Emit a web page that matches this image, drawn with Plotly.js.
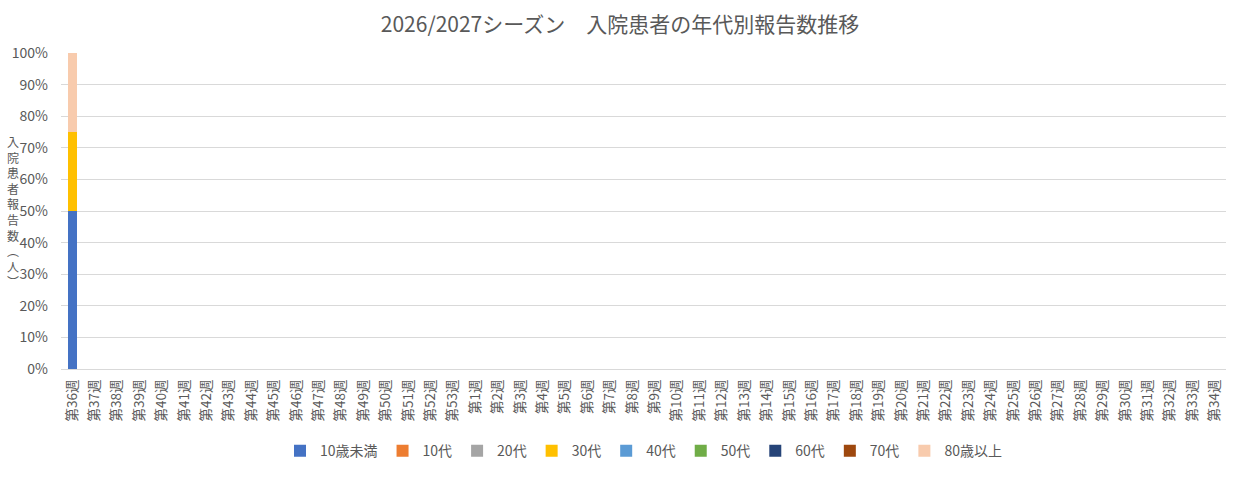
<!DOCTYPE html>
<html>
<head>
<meta charset="utf-8">
<script src="https://cdn.plot.ly/plotly-3.0.1.min.js"></script>
<style>
  html,body{margin:0;padding:0;background:#fff;}
  #chart{width:1240px;height:495px;}
</style>
</head>
<body>
<div id="chart"></div>
<script>
// 週ラベル (第36週〜第53週、第1週〜第34週)
const weeks=["第36週","第37週","第38週","第39週","第40週","第41週","第42週","第43週","第44週","第45週","第46週","第47週","第48週","第49週","第50週","第51週","第52週","第53週",
  "第1週","第2週","第3週","第4週","第5週","第6週","第7週","第8週","第9週","第10週","第11週","第12週","第13週","第14週","第15週","第16週","第17週","第18週","第19週","第20週",
  "第21週","第22週","第23週","第24週","第25週","第26週","第27週","第28週","第29週","第30週","第31週","第32週","第33週","第34週"];

const ageGroups=["10歳未満","10代","20代","30代","40代","50代","60代","70代","80歳以上"];
const colors=["#4472C4","#ED7D31","#A5A5A5","#FFC000","#5B9BD5","#70AD47","#264478","#9E480E","#F8CBAD"];

// 第36週のみ報告あり
const under10=[2];
const teens=[0];
const twenties=[0];
const thirties=[1];
const forties=[0];
const fifties=[0];
const sixties=[0];
const seventies=[0];
const over80=[1];

const seriesValues=[under10,teens,twenties,thirties,forties,fifties,sixties,seventies,over80];

const font="'Noto Sans CJK JP', 'Noto Sans', sans-serif";

const data=ageGroups.map((name,i)=>({
    x:weeks,
    y:weeks.map((w,j)=>j<seriesValues[i].length?seriesValues[i][j]:null),
    name:name,
    type:"bar",
    marker:{color:colors[i]},
    hoverinfo:"x+y+name"
}));

// 縦書きの軸タイトル
const yTitle=["入","院","患","者","報","告","数","︵","人","︶"].join("<br>");

const layout={
    barmode:"stack",
    barnorm:"fraction",
    bargap:0.58,
    paper_bgcolor:"#ffffff",
    plot_bgcolor:"#ffffff",
    width:1240,
    height:495,
    margin:{l:61,r:14,t:53,b:126},
    font:{family:font,color:"#595959",size:12},
    title:{
        text:"2026/2027シーズン　入院患者の年代別報告数推移",
        font:{family:font,size:21,color:"#595959"},
        x:0.5,xanchor:"center",y:0.95,yanchor:"middle"
    },
    xaxis:{
        type:"category",
        tickangle:-90,
        tickfont:{size:13.5,color:"#595959"},
        showline:true,
        linecolor:"#D9D9D9",
        ticks:"",
        ticklabelstandoff:4,
        showgrid:false
    },
    yaxis:{
        range:[0,1],
        dtick:0.1,
        tickformat:".0%",
        tickfont:{size:14,color:"#595959"},
        gridcolor:"#D9D9D9",
        zeroline:false,
        ticks:"",
        ticklabelstandoff:12,
        showline:false
    },
    legend:{
        orientation:"h",
        x:0.5,xanchor:"center",
        y:-0.26,yanchor:"middle",
        font:{size:14,color:"#595959"},
        traceorder:"normal",
        itemwidth:30
    },
    annotations:[{
        text:yTitle,
        xref:"paper",yref:"paper",
        x:-0.041,y:0.5,
        xanchor:"center",yanchor:"middle",
        showarrow:false,
        font:{size:12,color:"#595959",family:font}
    }]
};

Plotly.newPlot("chart",data,layout,{responsive:false,displayModeBar:false});
</script>
</body>
</html>
